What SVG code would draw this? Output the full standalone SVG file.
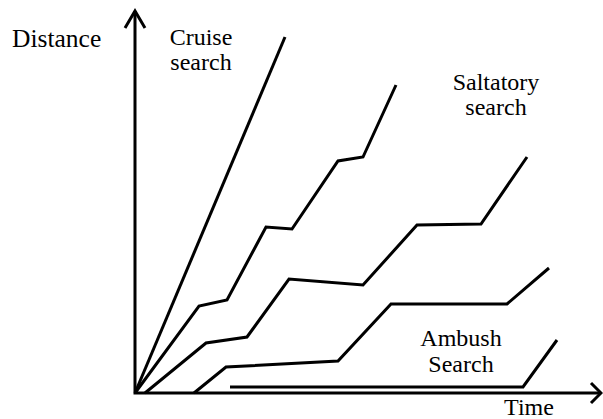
<svg xmlns="http://www.w3.org/2000/svg" width="603" height="419" viewBox="0 0 603 419">
  <style>
    .ln { fill: none; stroke: #000; stroke-width: 3; stroke-linejoin: miter; stroke-linecap: butt; }
    .ax { fill: none; stroke: #000; stroke-width: 3; }
    .lbl { font-family: "Liberation Serif", "Times New Roman", serif; font-size: 24px; fill: #000; }
  </style>
  <defs>
    <clipPath id="ambushClip">
      <rect x="400" y="320" width="120" height="53"/>
    </clipPath>
  </defs>
  <rect width="603" height="419" fill="#fff"/>

  <!-- axes -->
  <g id="axes">
    <polyline class="ax" points="135,11 135,393 600,393"/>
    <polyline class="ax" points="125,28 135,11 145,28"/>
    <polyline class="ax" points="591,383 601,393 591,403"/>
  </g>

  <!-- search trajectories -->
  <g id="connectors">
    <polyline id="cruise" class="ln" points="135,393 285,37"/>
    <polyline id="saltatory-1" class="ln" points="135,393 199,306 227,300 266,227 292,229 338,161 363,157 396,85"/>
    <polyline id="saltatory-2" class="ln" points="145,393 206,343 247,337 289,279 363,285 417,225 481,224 527,157"/>
    <polyline id="saltatory-3" class="ln" points="194,393 226,367 338,361 391,304 507,304 549,268"/>
    <polyline id="ambush" class="ln" points="230,387 523,387 557,340"/>
  </g>

  <!-- labels -->
  <g id="label-distance"><text class="lbl" x="12" y="47" style="font-size:25.5px">Distance</text></g>
  <g id="label-cruise">
    <text class="lbl" x="201" y="45" text-anchor="middle">Cruise</text>
    <text class="lbl" x="201" y="70" text-anchor="middle">search</text>
  </g>
  <g id="label-saltatory">
    <text class="lbl" x="496" y="90" text-anchor="middle">Saltatory</text>
    <text class="lbl" x="496" y="115" text-anchor="middle">search</text>
  </g>
  <g id="label-ambush" clip-path="url(#ambushClip)">
    <text class="lbl" x="461" y="346" text-anchor="middle">Ambush</text>
    <text class="lbl" x="461" y="372" text-anchor="middle">Search</text>
  </g>
  <g id="label-time"><text class="lbl" x="529" y="415" text-anchor="middle">Time</text></g>
</svg>
